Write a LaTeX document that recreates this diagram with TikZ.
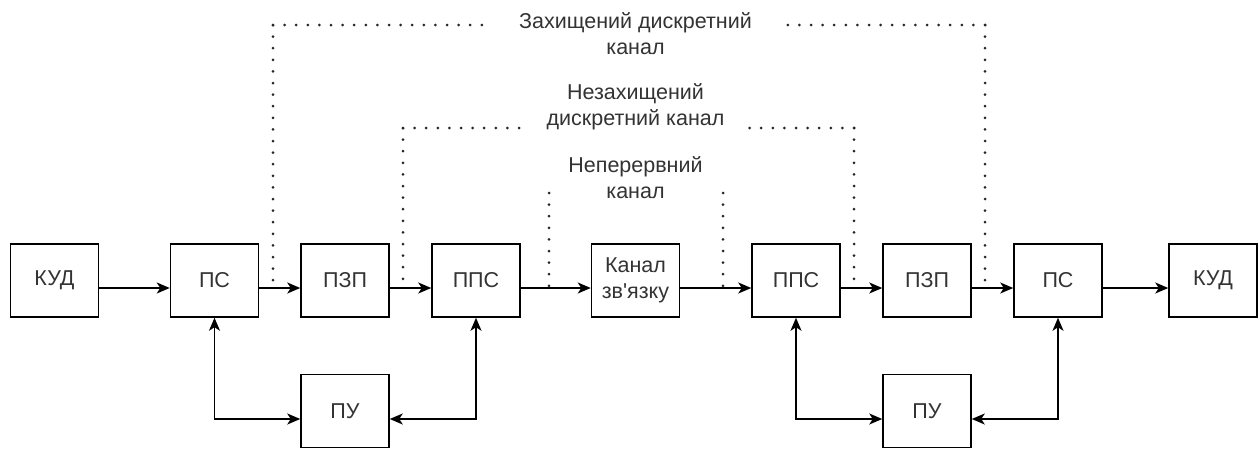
\documentclass[tikz,border=0pt]{standalone}
\usepackage{fontspec}
\setmainfont{Liberation Sans}[Ligatures=TeXOff]
\usetikzlibrary{arrows.meta}
\definecolor{txt}{RGB}{51,51,51}
\tikzset{
  blk/.style={draw, line width=1.5pt, minimum width=88pt, minimum height=73pt,
    inner sep=0pt, align=center, text=txt,
    font=\fontsize{21.5}{26}\selectfont},
  flow/.style={line width=1.5pt, -{Stealth[length=13pt,width=11pt,inset=3.5pt]}},
  both/.style={line width=1.5pt, {Stealth[length=13pt,width=11pt,inset=3.5pt]}-{Stealth[length=13pt,width=11pt,inset=3.5pt]}},
  dots/.style={line width=3pt, line cap=round, dash pattern=on 0pt off 11.6pt, color=black!85},
  lbl/.style={align=center, text=txt, inner sep=0pt, anchor=base,
    font=\fontsize{21.5}{26}\selectfont}
}
\begin{document}
\begin{tikzpicture}[x=1pt, y=-1pt]
\useasboundingbox (0,0) rectangle (1258,448);

% main chain of blocks
\node[blk] (kud1) at (54.5,280.5) {КУД};
\node[blk] (ps1)  at (214.5,280.5) {ПС};
\node[blk] (pzp1) at (345,280.5) {ПЗП};
\node[blk] (pps1) at (476,280.5) {ППС};
\node[blk] (ch)   at (635.5,280.5) {Канал\\зв'язку};
\node[blk] (pps2) at (796,280.5) {ППС};
\node[blk] (pzp2) at (927,280.5) {ПЗП};
\node[blk] (ps2)  at (1058,280.5) {ПС};
\node[blk] (kud2) at (1213,280.5) {КУД};

% control units
\node[blk] (pu1) at (345,411) {ПУ};
\node[blk] (pu2) at (927,411) {ПУ};

% signal flow
\foreach \a/\b in {kud1/ps1, ps1/pzp1, pzp1/pps1, pps1/ch, ch/pps2, pps2/pzp2, pzp2/ps2, ps2/kud2}
  \draw[flow] ([yshift=-7.5pt]\a.east) -- ([yshift=-7.5pt]\b.west);

% links to the control units
\draw[both] (ps1.south)  |- ([yshift=-8pt]pu1.west);
\draw[both] (pps1.south) |- ([yshift=-8pt]pu1.east);
\draw[both] (pps2.south) |- ([yshift=-8pt]pu2.west);
\draw[both] (ps2.south)  |- ([yshift=-8pt]pu2.east);

% bracket corners and ends
\coordinate (oA) at (273,288);  \coordinate (oB) at (273,25);
\coordinate (oC) at (483,25);   \coordinate (oD) at (783,25);
\coordinate (oE) at (985,25);   \coordinate (oF) at (985,288);
\coordinate (mA) at (403,288);  \coordinate (mB) at (403,128);
\coordinate (mC) at (519,128);  \coordinate (mD) at (748,128);
\coordinate (mE) at (854,128);  \coordinate (mF) at (854,288);
\coordinate (iA) at (549,288);  \coordinate (iB) at (549,193);
\coordinate (iE) at (723,193);  \coordinate (iF) at (723,288);

% protected discrete channel
\draw[dots] (oB) -- (oA);
\draw[dots] (oB) -- (oC);
\draw[dots] (oE) -- (oD);
\draw[dots] (oE) -- (oF);
% unprotected discrete channel
\draw[dots] (mB) -- (mA);
\draw[dots] (mB) -- (mC);
\draw[dots] (mE) -- (mD);
\draw[dots] (mE) -- (mF);
% continuous channel
\draw[dots] (iB) -- (iA);
\draw[dots] (iE) -- (iF);

\node[lbl] (t1) at (635.5,54) {Захищений дискретний\\канал};
\node[lbl] (t2) at (635.5,125.7) {Незахищений\\дискретний канал};
\node[lbl] (t3) at (635.5,198.3) {Неперервний\\канал};
\end{tikzpicture}
\end{document}
